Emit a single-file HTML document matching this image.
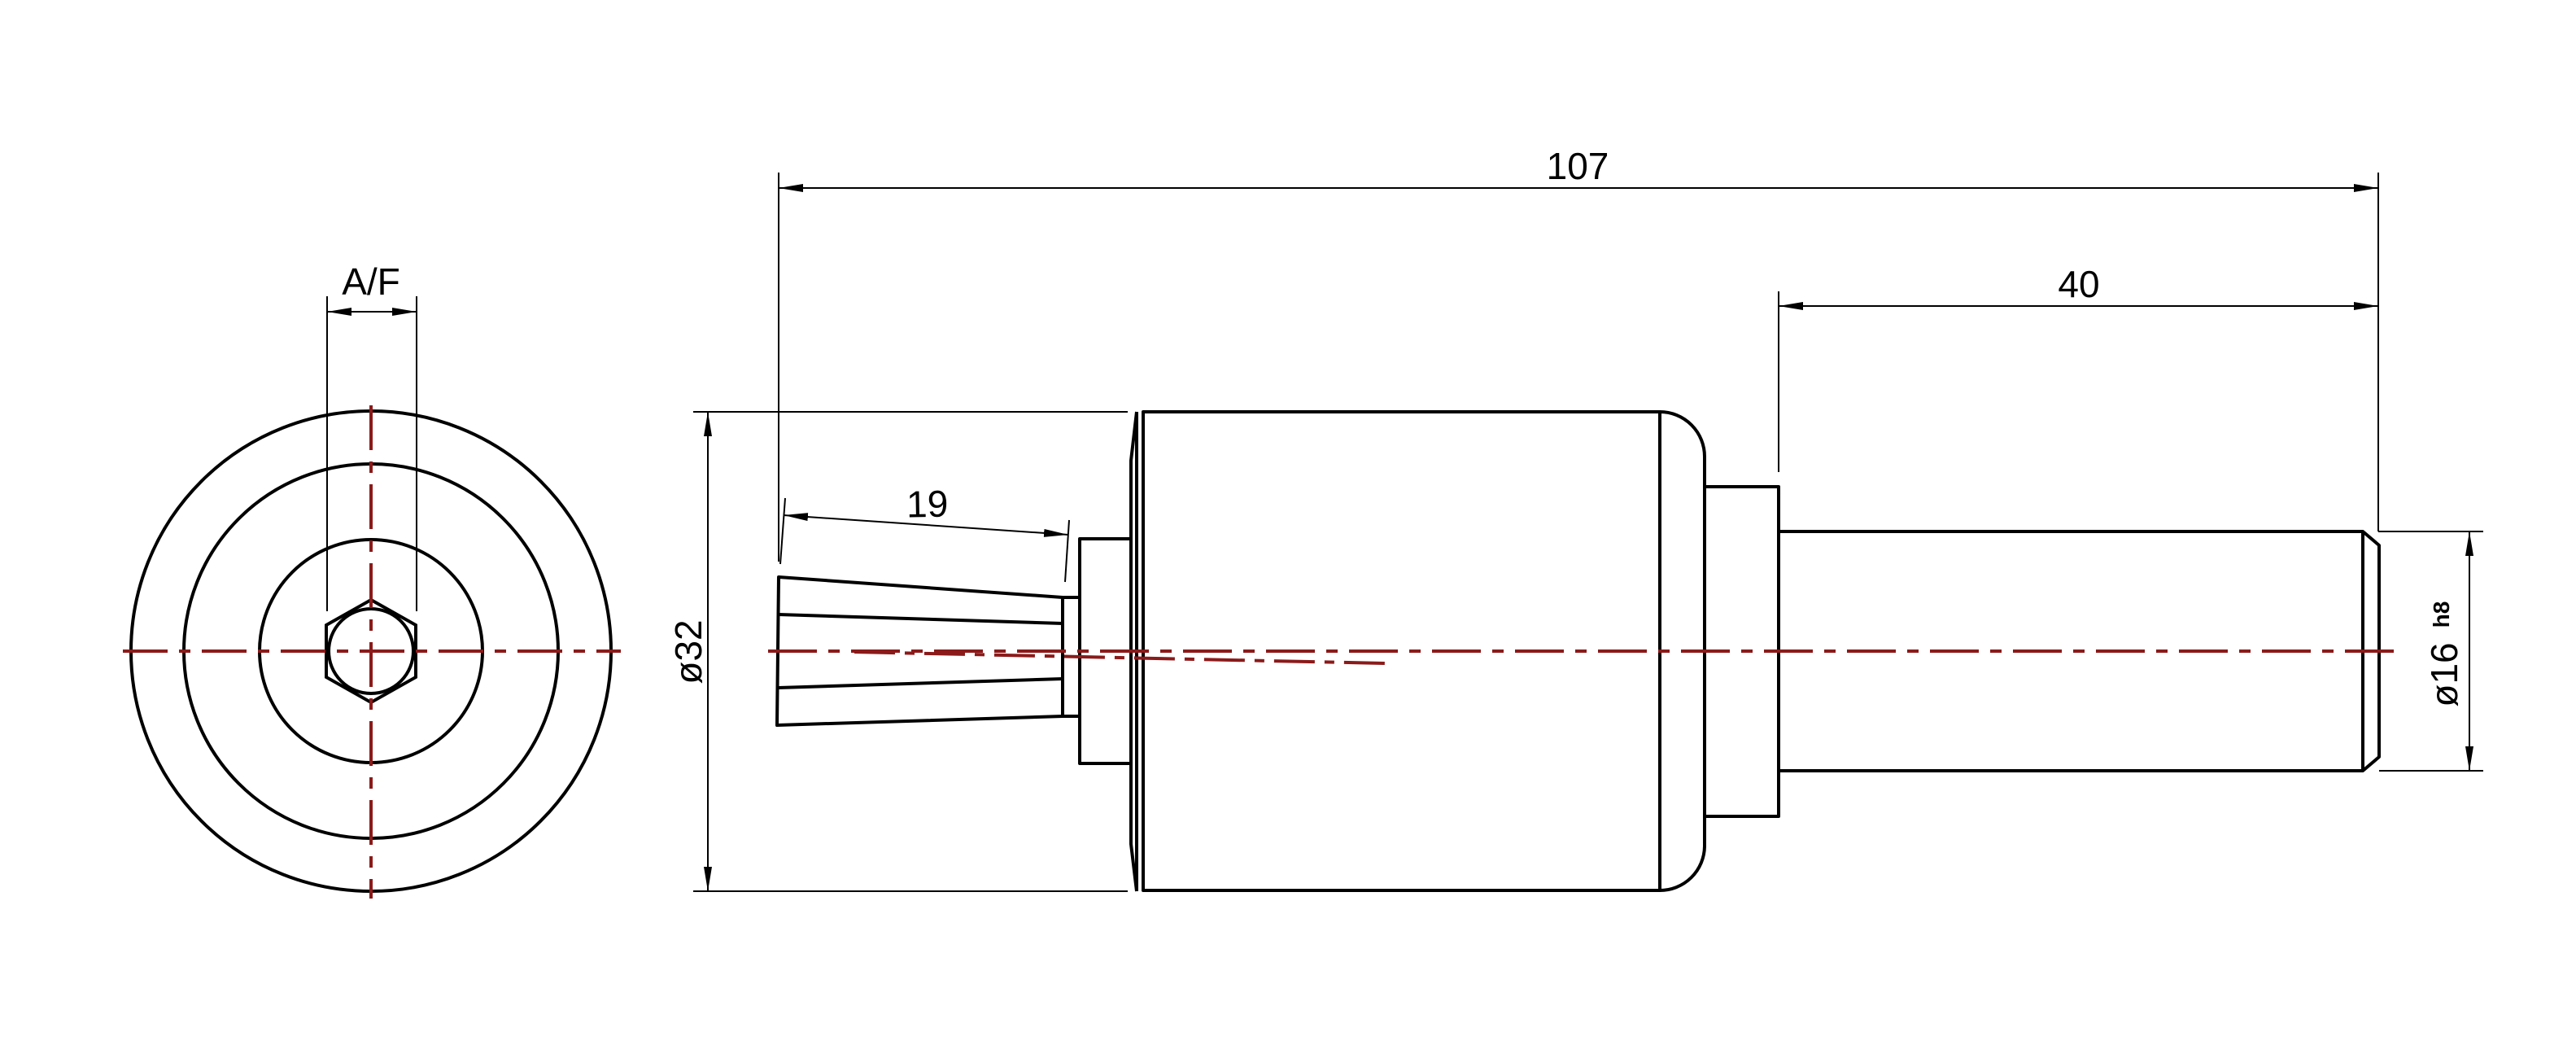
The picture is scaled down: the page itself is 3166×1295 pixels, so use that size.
<!DOCTYPE html>
<html><head><meta charset="utf-8"><style>
html,body{margin:0;padding:0;background:#fff;}
svg{display:block;}
text{font-family:"Liberation Sans",sans-serif;fill:#000;}
</style></head><body>
<svg width="3166" height="1295" viewBox="0 0 3166 1295" xmlns="http://www.w3.org/2000/svg">
<defs>
<marker id="ar" viewBox="0 0 30 10" refX="30" refY="5" markerWidth="30" markerHeight="10" markerUnits="userSpaceOnUse" orient="auto-start-reverse">
<path d="M0,0 L30,5 L0,10 Z" fill="#000"/>
</marker>
</defs>
<rect width="3166" height="1295" fill="#fff"/>

<!-- LEFT VIEW -->
<g fill="none" stroke="#000" stroke-width="4">
<circle cx="456" cy="800" r="295"/>
<circle cx="456" cy="800" r="230"/>
<circle cx="456" cy="800" r="137"/>
<circle cx="456" cy="800" r="52"/>
<polygon points="456,737 511,768 511,832 456,863 401,832 401,768"/>
</g>
<g stroke="#8b1a1a" stroke-width="4" stroke-dasharray="55 14 14 14">
<line x1="151" y1="800" x2="763" y2="800"/>
<line x1="456" y1="498" x2="456" y2="1104"/>
</g>
<g stroke="#000" stroke-width="2" fill="none">
<line x1="402" y1="364" x2="402" y2="751"/>
<line x1="512" y1="364" x2="512" y2="751"/>
<line x1="402" y1="383" x2="512" y2="383" marker-start="url(#ar)" marker-end="url(#ar)"/>
</g>
<text x="456" y="362" font-size="46" text-anchor="middle">A/F</text>

<!-- SIDE VIEW: dimensions -->
<g stroke="#000" stroke-width="2" fill="none">
<line x1="852" y1="506" x2="1386" y2="506"/>
<line x1="852" y1="1095" x2="1386" y2="1095"/>
<line x1="870" y1="506" x2="870" y2="1095" marker-start="url(#ar)" marker-end="url(#ar)"/>
<line x1="957" y1="212" x2="957" y2="690"/>
<line x1="2923" y1="212" x2="2923" y2="653"/>
<line x1="957" y1="231" x2="2923" y2="231" marker-start="url(#ar)" marker-end="url(#ar)"/>
<line x1="2186" y1="358" x2="2186" y2="580"/>
<line x1="2186" y1="376" x2="2923" y2="376" marker-start="url(#ar)" marker-end="url(#ar)"/>
<line x1="2923" y1="653" x2="3052" y2="653"/>
<line x1="2924" y1="947" x2="3052" y2="947"/>
<line x1="3035" y1="653" x2="3035" y2="947" marker-start="url(#ar)" marker-end="url(#ar)"/>
<line x1="959" y1="693" x2="965" y2="612"/>
<line x1="1309" y1="715" x2="1314" y2="639"/>
<line x1="963" y1="633" x2="1313" y2="657" marker-start="url(#ar)" marker-end="url(#ar)"/>
</g>
<text x="1939" y="220" font-size="46" text-anchor="middle">107</text>
<text x="2555" y="365" font-size="46" text-anchor="middle">40</text>
<text x="1140" y="635" font-size="46" text-anchor="middle" transform="rotate(-1 1140 635)">19</text>
<text font-size="46" text-anchor="middle" transform="translate(862 801) rotate(-90)">ø32</text>
<text font-size="46" text-anchor="middle" transform="translate(3020 829) rotate(-90)">ø16</text>
<text font-size="28" font-weight="bold" text-anchor="middle" transform="translate(3010 755) rotate(-90)">h8</text>

<!-- SIDE VIEW: body -->
<g fill="none" stroke="#000" stroke-width="4" stroke-linejoin="round">
<polygon points="957,709 1306,734 1306,880 955,891"/>
<line x1="957" y1="755" x2="1306" y2="766"/>
<line x1="957" y1="845" x2="1306" y2="834"/>
<rect x="1306" y="734" width="21" height="146"/>
<rect x="1327" y="662" width="63" height="276"/>
<polyline points="1397,506 1390,566 1390,1037 1397,1095"/>
<line x1="1397" y1="506" x2="1397" y2="1095"/>
<path d="M1405,506 L2040,506 A55,55 0 0 1 2095,561 L2095,1040 A55,55 0 0 1 2040,1094 L1405,1094 Z"/>
<line x1="2040" y1="506" x2="2040" y2="1094"/>
<rect x="2095" y="598" width="91" height="405"/>
<polyline points="2186,653 2904,653 2924,670 2924,930 2904,947 2186,947"/>
<line x1="2904" y1="653" x2="2904" y2="947"/>
</g>
<g stroke="#8b1a1a" stroke-width="4" fill="none">
<line x1="944" y1="800" x2="2944" y2="800" stroke-dasharray="60 14 14 14"/>
<line x1="1050" y1="801" x2="1702" y2="815" stroke-dasharray="50 12 12 12"/>
</g>
</svg>
</body></html>
